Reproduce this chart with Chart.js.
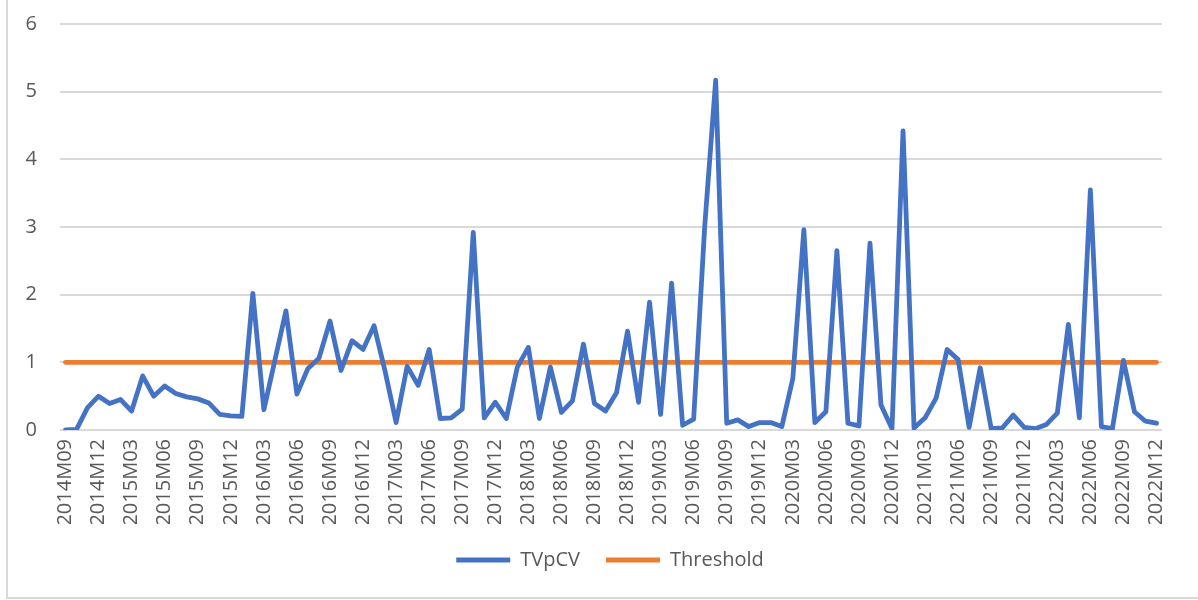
<!DOCTYPE html>
<html>
<head>
<meta charset="utf-8">
<script src="https://cdn.jsdelivr.net/npm/chart.js@4/dist/chart.umd.min.js"></script>
<style>
  html, body { margin: 0; padding: 0; background: #ffffff; overflow: hidden; }
  #frame { position: absolute; left: 6px; top: -10px; width: 1300px; height: 609px; border: 2px solid #d9d9d9; box-sizing: border-box; }
  #c { position: absolute; left: 0; top: 0; }
</style>
</head>
<body>
<div id="frame"></div>
<canvas id="c" width="1198" height="600"></canvas>
<script>
const categories = [
  "2014M09","2014M10","2014M11","2014M12",
  "2015M01","2015M02","2015M03","2015M04","2015M05","2015M06","2015M07","2015M08","2015M09","2015M10","2015M11","2015M12",
  "2016M01","2016M02","2016M03","2016M04","2016M05","2016M06","2016M07","2016M08","2016M09","2016M10","2016M11","2016M12",
  "2017M01","2017M02","2017M03","2017M04","2017M05","2017M06","2017M07","2017M08","2017M09","2017M10","2017M11","2017M12",
  "2018M01","2018M02","2018M03","2018M04","2018M05","2018M06","2018M07","2018M08","2018M09","2018M10","2018M11","2018M12",
  "2019M01","2019M02","2019M03","2019M04","2019M05","2019M06","2019M07","2019M08","2019M09","2019M10","2019M11","2019M12",
  "2020M01","2020M02","2020M03","2020M04","2020M05","2020M06","2020M07","2020M08","2020M09","2020M10","2020M11","2020M12",
  "2021M01","2021M02","2021M03","2021M04","2021M05","2021M06","2021M07","2021M08","2021M09","2021M10","2021M11","2021M12",
  "2022M01","2022M02","2022M03","2022M04","2022M05","2022M06","2022M07","2022M08","2022M09","2022M10","2022M11","2022M12"
];

const tvpcv = [
  0.00, 0.01, 0.33, 0.50,
  0.39, 0.45, 0.28, 0.80, 0.50, 0.65, 0.54, 0.49, 0.46, 0.40, 0.23, 0.21,
  0.20, 2.02, 0.30, 1.03, 1.76, 0.53, 0.91, 1.06, 1.61, 0.88, 1.32, 1.19,
  1.54, 0.87, 0.11, 0.94, 0.66, 1.19, 0.17, 0.18, 0.31, 2.92, 0.18, 0.41,
  0.17, 0.93, 1.22, 0.17, 0.93, 0.26, 0.43, 1.27, 0.39, 0.28, 0.55, 1.46,
  0.41, 1.89, 0.23, 2.17, 0.07, 0.16, 3.00, 5.17, 0.10, 0.15, 0.05, 0.11,
  0.11, 0.05, 0.76, 2.96, 0.11, 0.27, 2.65, 0.10, 0.06, 2.76, 0.37, 0.02,
  4.42, 0.03, 0.18, 0.47, 1.19, 1.04, 0.04, 0.92, 0.02, 0.03, 0.22, 0.04,
  0.02, 0.08, 0.25, 1.56, 0.18, 3.55, 0.05, 0.02, 1.03, 0.27, 0.13, 0.10
];

const threshold = [
  1, 1, 1, 1,
  1, 1, 1, 1, 1, 1, 1, 1, 1, 1, 1, 1,
  1, 1, 1, 1, 1, 1, 1, 1, 1, 1, 1, 1,
  1, 1, 1, 1, 1, 1, 1, 1, 1, 1, 1, 1,
  1, 1, 1, 1, 1, 1, 1, 1, 1, 1, 1, 1,
  1, 1, 1, 1, 1, 1, 1, 1, 1, 1, 1, 1,
  1, 1, 1, 1, 1, 1, 1, 1, 1, 1, 1, 1,
  1, 1, 1, 1, 1, 1, 1, 1, 1, 1, 1, 1,
  1, 1, 1, 1, 1, 1, 1, 1, 1, 1, 1, 1
];

const yTicks = [0, 1, 2, 3, 4, 5, 6];
const seriesNames = ["TVpCV", "Threshold"];
const labelStep = 3;

Chart.defaults.font.family = "'Open Sans', 'Noto Sans', sans-serif";
Chart.defaults.font.size = 20;
Chart.defaults.color = "#595959";

// keep legend centred under the plot like the original
const legendShift = {
  id: "legendShift",
  afterLayout(chart) {
    if (chart.legend) { chart.legend.left = 58; }
  }
};

new Chart(document.getElementById("c"), {
  type: "line",
  data: {
    labels: categories,
    datasets: [
      {
        label: seriesNames[0],
        data: tvpcv,
        borderColor: "#4472C4",
        backgroundColor: "#4472C4",
        borderWidth: 4.8,
        pointRadius: 0,
        tension: 0,
        borderJoinStyle: "round",
        borderCapStyle: "round"
      },
      {
        label: seriesNames[1],
        data: threshold,
        borderColor: "#ED7D31",
        backgroundColor: "#ED7D31",
        borderWidth: 4.8,
        pointRadius: 0,
        tension: 0,
        borderJoinStyle: "round",
        borderCapStyle: "round"
      }
    ]
  },
  plugins: [legendShift],
  options: {
    responsive: false,
    animation: false,
    devicePixelRatio: 1,
    layout: { padding: { top: 24, right: 36, bottom: 20, left: 0 } },
    plugins: {
      tooltip: { enabled: false },
      legend: {
        position: "bottom",
        labels: {
          usePointStyle: true,
          pointStyle: "line",
          pointStyleWidth: 54,
          boxWidth: 54,
          padding: 26,
          color: "#595959",
          font: { size: 20 }
        }
      }
    },
    scales: {
      x: {
        type: "category",
        offset: true,
        grid: { display: false, drawTicks: false },
        border: { display: false },
        ticks: {
          autoSkip: false,
          minRotation: 90,
          maxRotation: 90,
          padding: 9,
          color: "#595959",
          font: { size: 20 },
          callback: function (val, idx) { return idx % labelStep === 0 ? categories[idx] : ""; }
        },
        afterFit: function (scale) { scale.height = 94; }
      },
      y: {
        min: yTicks[0],
        max: yTicks[yTicks.length - 1],
        afterBuildTicks: function (scale) { scale.ticks = yTicks.map(v => ({ value: v })); },
        grid: { color: "#d9d9d9", lineWidth: 2, drawTicks: false },
        border: { display: false },
        ticks: {
          padding: 23,
          color: "#595959",
          font: { size: 20 }
        },
        afterFit: function (scale) {
          scale.width = 60;
          scale.paddingTop = 0;
          scale.paddingBottom = 0;
        }
      }
    }
  }
});
</script>
</body>
</html>
